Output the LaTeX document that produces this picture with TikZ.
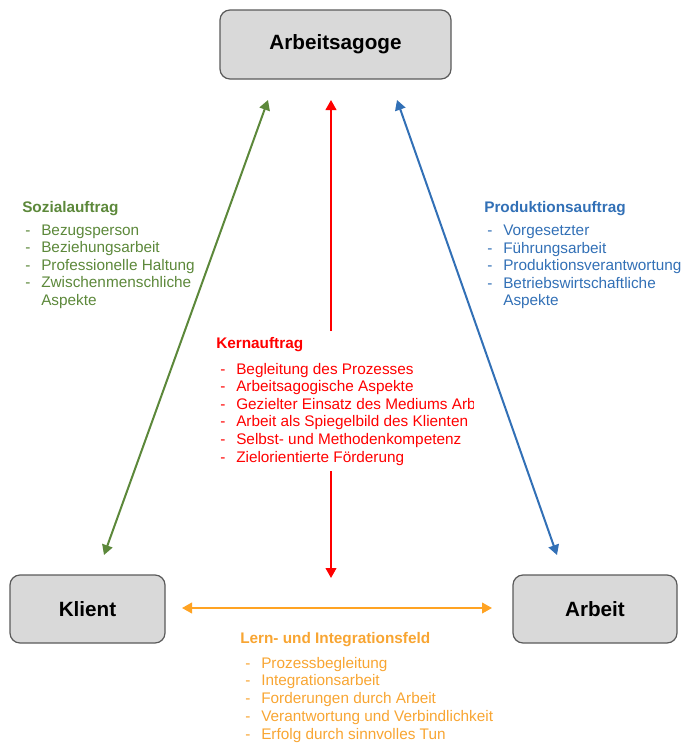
\documentclass[tikz,border=0pt]{standalone}
\usepackage{fontspec}
\setmainfont{Liberation Sans}
\usetikzlibrary{arrows.meta}
\definecolor{boxfill}{HTML}{D9D9D9}
\definecolor{boxline}{HTML}{5A5A5A}
\definecolor{sgreen}{RGB}{92,136,58}
\definecolor{pblue}{RGB}{50,112,182}
\definecolor{korange}{RGB}{255,163,35}
\definecolor{torange}{RGB}{248,165,50}
\newcommand\dashitem[1]{\makebox[12pt][l]{-}#1}
\begin{document}
\begin{tikzpicture}[x=0.75pt,y=-0.75pt,
 box/.style={draw=boxline, line width=0.9pt, fill=boxfill, rounded corners=7.5pt,
   font=\fontsize{15.5}{18}\selectfont\bfseries},
 conn/.style={line width=1.5pt, {Triangle[length=7.5pt,width=8pt]}-{Triangle[length=7.5pt,width=8pt]}},
 half/.style={line width=1.5pt, -{Triangle[length=7.5pt,width=8pt]}},
 ttl/.style={anchor=base west, inner sep=0pt, font=\fontsize{11.5}{14}\selectfont\bfseries},
 itm/.style={anchor=base west, inner sep=0pt, font=\fontsize{11.5}{14}\selectfont},
]
\useasboundingbox (0,0) rectangle (682,746);

% boxes
\node[box, minimum width=173.25pt, minimum height=51.75pt] (ag) at (335.5,44.5) {Arbeitsagoge};
\node[box, minimum width=116.25pt, minimum height=51pt] (kl) at (87.5,609) {Klient};
\node[box, minimum width=123pt, minimum height=51pt] (ar) at (595,609) {Arbeit};

% connector end coordinates
\coordinate (gT) at (268,100);
\coordinate (gB) at (104,555);
\coordinate (bT) at (397,100);
\coordinate (bB) at (557,555);
\coordinate (rT) at (331,100);
\coordinate (rTs) at (331,331);
\coordinate (rBs) at (331,471);
\coordinate (rB) at (331,578);
\coordinate (oL) at (182,608);
\coordinate (oR) at (492,608);

\draw[conn, draw=sgreen, fill=sgreen] (gT) -- (gB);
\draw[conn, draw=pblue, fill=pblue] (bT) -- (bB);
\draw[half, draw=red, fill=red] (rTs) -- (rT);
\draw[half, draw=red, fill=red] (rBs) -- (rB);
\draw[conn, draw=korange, fill=korange] (oL) -- (oR);

% Sozialauftrag
\begin{scope}[color=sgreen]
\node[ttl] (sozT) at (22,212) {Sozialauftrag};
\node[itm] (soz1) at (25,235) {\dashitem{Bezugsperson}};
\node[itm] (soz2) at (25,252.5) {\dashitem{Beziehungsarbeit}};
\node[itm] (soz3) at (25,270) {\dashitem{Professionelle Haltung}};
\node[itm] (soz4) at (25,287.5) {\dashitem{Zwischenmenschliche}};
\node[itm] (soz5) at (41,305) {Aspekte};
\end{scope}

% Produktionsauftrag
\begin{scope}[color=pblue]
\node[ttl] (proT) at (484,212) {Produktionsauftrag};
\node[itm] (pro1) at (487,235.5) {\dashitem{Vorgesetzter}};
\node[itm] (pro2) at (487,253) {\dashitem{Führungsarbeit}};
\node[itm] (pro3) at (487,270.5) {\dashitem{Produktionsverantwortung}};
\node[itm] (pro4) at (487,288) {\dashitem{Betriebswirtschaftliche}};
\node[itm] (pro5) at (503,305.5) {Aspekte};
\end{scope}

% Kernauftrag
\begin{scope}[color=red]
\node[ttl] (kerT) at (216,348) {Kernauftrag};
\node[itm] (ker1) at (220,374) {\dashitem{Begleitung des Prozesses}};
\node[itm] (ker2) at (220,391.6) {\dashitem{Arbeitsagogische Aspekte}};
\begin{scope}
\clip (200,392) rectangle (473,418);
\node[itm] (ker3) at (220,409.2) {\dashitem{Gezielter Einsatz des Mediums Arbeit}};
\end{scope}
\node[itm] (ker4) at (220,426.8) {\dashitem{Arbeit als Spiegelbild des Klienten}};
\node[itm] (ker5) at (220,444.4) {\dashitem{Selbst- und Methodenkompetenz}};
\node[itm] (ker6) at (220,462) {\dashitem{Zielorientierte Förderung}};
\end{scope}

% Lern- und Integrationsfeld
\begin{scope}[color=torange]
\node[ttl] (lerT) at (240,643) {Lern- und Integrationsfeld};
\node[itm] (ler1) at (245,668) {\dashitem{Prozessbegleitung}};
\node[itm] (ler2) at (245,685.8) {\dashitem{Integrationsarbeit}};
\node[itm] (ler3) at (245,703.6) {\dashitem{Forderungen durch Arbeit}};
\node[itm] (ler4) at (245,721.4) {\dashitem{Verantwortung und Verbindlichkeit}};
\node[itm] (ler5) at (245,739.2) {\dashitem{Erfolg durch sinnvolles Tun}};
\end{scope}
\end{tikzpicture}
\end{document}
